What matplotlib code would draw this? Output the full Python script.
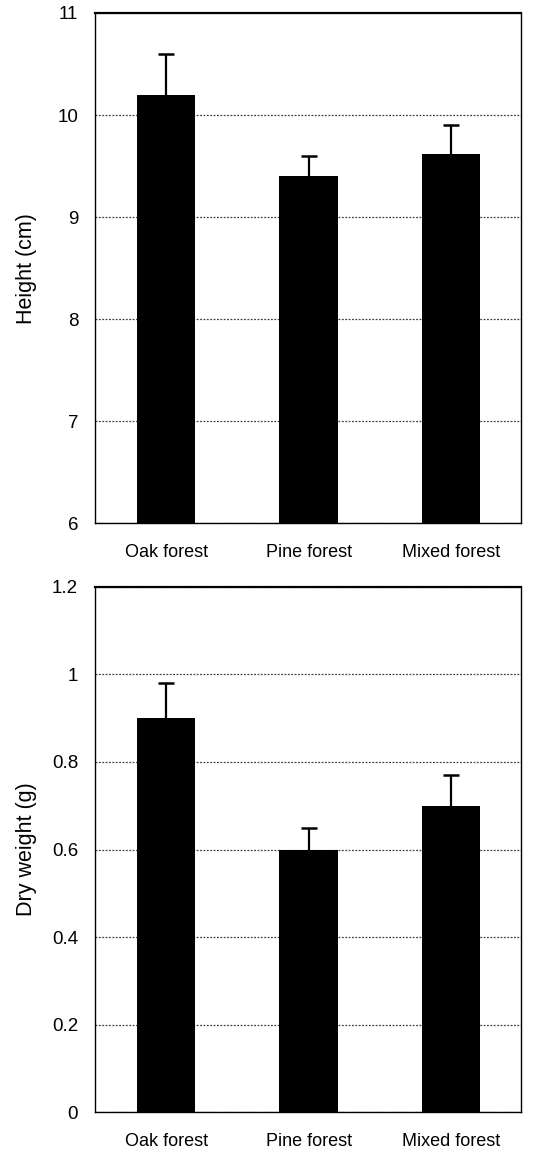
import matplotlib
matplotlib.use("Agg")
import matplotlib.pyplot as plt

# ==========================================
# DATOS
# ==========================================
forests = ["Oak forest", "Pine forest", "Mixed forest"]

height_mean = [10.2, 9.4, 9.62]
height_err = [0.4, 0.2, 0.28]

weight_mean = [0.90, 0.60, 0.70]
weight_err = [0.08, 0.05, 0.07]

height_ticks = [6, 7, 8, 9, 10, 11]
height_ticklabels = ["6", "7", "8", "9", "10", "11"]
weight_ticks = [0, 0.2, 0.4, 0.6, 0.8, 1.0, 1.2]
weight_ticklabels = ["0", "0.2", "0.4", "0.6", "0.8", "1", "1.2"]

plt.rcParams['font.family'] = ['Liberation Sans', 'DejaVu Sans']


def draw_panel(ax, means, errs, ylim, ticks, ticklabels, ylabel):
    x = list(range(len(forests)))
    ax.set_axisbelow(True)
    ax.yaxis.grid(True, linestyle=(0, (1.5, 1.2)), linewidth=0.9, color='0.25')
    ax.bar(x, [m - ylim[0] for m in means], bottom=ylim[0], width=0.41,
           color='black', zorder=3)
    # barras de error solo hacia arriba, sin tope inferior
    ax.errorbar(x, means, yerr=[[0] * len(errs), errs], fmt='none',
                ecolor='black', elinewidth=1.6, capsize=0, zorder=4)
    tops = [m + e for m, e in zip(means, errs)]
    ax.plot(x, tops, linestyle='none', marker='_', markersize=11,
            markeredgewidth=1.8, color='black', zorder=4)
    ax.set_xlim(-0.5, 2.49)
    ax.set_ylim(*ylim)
    ax.set_yticks(ticks)
    ax.set_yticklabels(ticklabels, fontsize=13.5)
    ax.set_xticks(x)
    ax.set_xticklabels(forests, fontsize=13)
    ax.tick_params(axis='y', length=0, pad=12)
    ax.tick_params(axis='x', length=0, pad=15)
    for s in ax.spines.values():
        s.set_linewidth(1.0)
    ax.spines['top'].set_linewidth(1.6)
    ax.set_ylabel(ylabel, fontsize=15.5)
    ax.yaxis.set_label_coords(-0.135, 0.5)


fig = plt.figure(figsize=(5.36, 11.5), dpi=100)
ax1 = fig.add_axes([0.177, 0.545, 0.795, 0.4437])
ax2 = fig.add_axes([0.177, 0.033, 0.795, 0.4566])

draw_panel(ax1, height_mean, height_err, (6, 11), height_ticks, height_ticklabels, "Height (cm)")
draw_panel(ax2, weight_mean, weight_err, (0, 1.2), weight_ticks, weight_ticklabels, "Dry weight (g)")

fig.savefig("out.png", dpi=100)
